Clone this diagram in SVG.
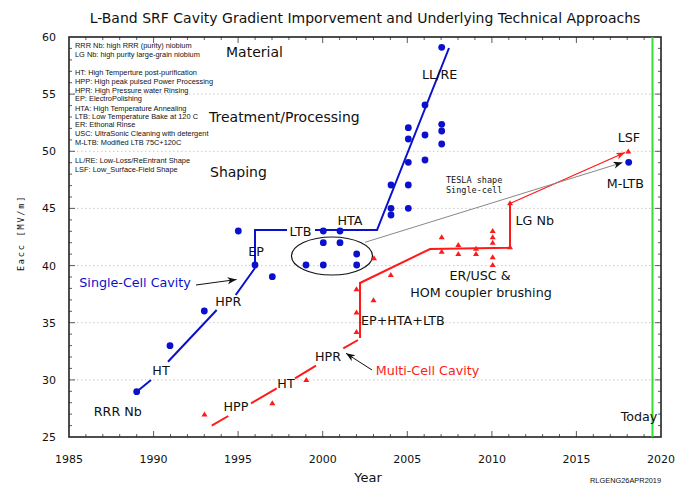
<svg xmlns="http://www.w3.org/2000/svg" xmlns:xlink="http://www.w3.org/1999/xlink" width="675" height="485" viewBox="0 0 675 485">
<style>
.t{font-family:"DejaVu Sans",sans-serif;fill:#111}
.lab{font-size:12.7px}
.big{font-size:14px}
.leg{font-family:"Liberation Sans",Arial,sans-serif;font-size:7.4px;fill:#111}
.mono{font-family:"DejaVu Sans Mono",monospace;font-size:8.5px;fill:#111}
.tick{font-family:"DejaVu Sans",sans-serif;font-size:11px;fill:#111}
.grid{stroke:#bbb;stroke-width:0.8;stroke-dasharray:1.5 2.5;fill:none}
.blue{stroke:#0a10cc;stroke-width:2;fill:none}
.red{stroke:#ff1a1a;stroke-width:2;fill:none}
.tk{stroke:#333;stroke-width:0.8;fill:none}
</style>
<defs>
<circle id="b" r="3.4" fill="#0a10cc"/>
<path id="tr" d="M0,-3 L3,2 L-3,2 Z" fill="#ff1a1a"/>
<marker id="ak" markerUnits="userSpaceOnUse" markerWidth="10" markerHeight="8" refX="9" refY="3.5" orient="auto"><path d="M0,0 L9,3.5 L0,7 L2.5,3.5 Z" fill="#111"/></marker>
<marker id="ar" markerUnits="userSpaceOnUse" markerWidth="10" markerHeight="8" refX="9" refY="3.5" orient="auto"><path d="M0,0 L9,3.5 L0,7 L2.5,3.5 Z" fill="#ff1a1a"/></marker>
</defs>
<rect width="675" height="485" fill="#fff"/>
<text class="t" x="365" y="23" font-size="14" text-anchor="middle">L-Band SRF Cavity Gradient Imporvement and Underlying Technical Approachs</text>
<g id="axes">
<path class="grid" d="M69,94.1H661M69,151.3H661M69,208.4H661M69,265.6H661M69,322.7H661M69,379.9H661"/>
<path class="tk" d="M85.9,437v-3M102.8,437v-3M119.7,437v-3M136.7,437v-3M170.5,437v-3M187.4,437v-3M204.3,437v-3M221.2,437v-3M255.1,437v-3M272,437v-3M288.9,437v-3M305.8,437v-3M339.6,437v-3M356.5,437v-3M373.5,437v-3M390.4,437v-3M424.2,437v-3M441.1,437v-3M458,437v-3M474.9,437v-3M508.8,437v-3M525.7,437v-3M542.6,437v-3M559.5,437v-3M593.3,437v-3M610.3,437v-3M627.2,437v-3M644.1,437v-3M153.6,437v-6M238.1,437v-6M322.7,437v-6M407.3,437v-6M491.9,437v-6M576.4,437v-6"/>
<path class="tk" d="M85.9,37v3M102.8,37v3M119.7,37v3M136.7,37v3M170.5,37v3M187.4,37v3M204.3,37v3M221.2,37v3M255.1,37v3M272,37v3M288.9,37v3M305.8,37v3M339.6,37v3M356.5,37v3M373.5,37v3M390.4,37v3M424.2,37v3M441.1,37v3M458,37v3M474.9,37v3M508.8,37v3M525.7,37v3M542.6,37v3M559.5,37v3M593.3,37v3M610.3,37v3M627.2,37v3M644.1,37v3M153.6,37v6M238.1,37v6M322.7,37v6M407.3,37v6M491.9,37v6M576.4,37v6"/>
<path class="tk" d="M69,425.6h3M69,414.1h3M69,402.7h3M69,391.3h3M69,368.4h3M69,357h3M69,345.6h3M69,334.1h3M69,311.3h3M69,299.9h3M69,288.4h3M69,277h3M69,254.1h3M69,242.7h3M69,231.3h3M69,219.9h3M69,197h3M69,185.6h3M69,174.1h3M69,162.7h3M69,139.9h3M69,128.4h3M69,117h3M69,105.6h3M69,82.7h3M69,71.3h3M69,59.9h3M69,48.4h3M69,379.9h6M69,322.7h6M69,265.6h6M69,208.4h6M69,151.3h6M69,94.1h6"/>
<path class="tk" d="M661,425.6h-3M661,414.1h-3M661,402.7h-3M661,391.3h-3M661,368.4h-3M661,357h-3M661,345.6h-3M661,334.1h-3M661,311.3h-3M661,299.9h-3M661,288.4h-3M661,277h-3M661,254.1h-3M661,242.7h-3M661,231.3h-3M661,219.9h-3M661,197h-3M661,185.6h-3M661,174.1h-3M661,162.7h-3M661,139.9h-3M661,128.4h-3M661,117h-3M661,105.6h-3M661,82.7h-3M661,71.3h-3M661,59.9h-3M661,48.4h-3M661,379.9h-6M661,322.7h-6M661,265.6h-6M661,208.4h-6M661,151.3h-6M661,94.1h-6"/>
<rect x="69" y="37" width="592" height="400" fill="none" stroke="#222" stroke-width="1.6"/>
<g class="tick" text-anchor="end">
<text x="56" y="41">60</text><text x="56" y="98">55</text><text x="56" y="155">50</text><text x="56" y="212">45</text><text x="56" y="269.5">40</text><text x="56" y="326.5">35</text><text x="56" y="384">30</text><text x="56" y="441">25</text>
</g>
<g class="tick" text-anchor="middle">
<text x="69" y="463">1985</text><text x="153.6" y="463">1990</text><text x="238.1" y="463">1995</text><text x="322.7" y="463">2000</text><text x="407.3" y="463">2005</text><text x="491.9" y="463">2010</text><text x="576.4" y="463">2015</text><text x="661" y="463">2020</text>
</g>
<text class="t" x="368" y="482" font-size="13" text-anchor="middle">Year</text>
<text class="mono" transform="translate(24,233) rotate(-90)" text-anchor="middle" letter-spacing="1.8">Eacc [MV/m]</text>
<text class="leg" x="590" y="483" font-size="7">RLGENG26APR2019</text>
<line x1="652.5" y1="37" x2="652.5" y2="437" stroke="#33dd33" stroke-width="2"/>
</g>
<g id="legend" class="leg">
<text x="75" y="47.7">RRR Nb: high RRR (purity) niobium</text>
<text x="75" y="57.2">LG Nb: high purity large-grain niobium</text>
<text x="75" y="75.3">HT: High Temperture post-purification</text>
<text x="75" y="83.8">HPP: High peak pulsed Power Processing</text>
<text x="75" y="92.6">HPR: High Pressure water Rinsing</text>
<text x="75" y="101.3">EP: ElectroPolishing</text>
<text x="75" y="110.6">HTA: High Temperature Annealing</text>
<text x="75" y="118.8">LTB: Low Temperature Bake at 120 C</text>
<text x="75" y="127.4">ER: Ethonal Rinse</text>
<text x="75" y="136">USC: UltraSonic Cleaning with detergent</text>
<text x="75" y="145.3">M-LTB: Modified LTB 75C+120C</text>
<text x="75" y="162.7">LL/RE: Low-Loss/ReEntrant Shape</text>
<text x="75" y="171.6">LSF: Low_Surface-Field Shape</text>
</g>
<g id="categories" class="t big">
<text x="226" y="57">Material</text>
<text x="209" y="122">Treatment/Processing</text>
<text x="210" y="177">Shaping</text>
</g>
<g id="connectors">
<path class="blue" d="M136.7,391.7L151,380M168,361.7L216.7,310M235.7,295L255,268M255,265V230H287M315,230H377L449,48"/>
<path class="red" d="M211.7,425.7L228.3,416M251,403.3L276.7,388.3M295,378.3L316,365.7M343.3,348.3L358,340M360,338V283L430,249L510,247.7V203.5"/>
<path d="M510,203.5L625,152.5" stroke="#ff1a1a" stroke-width="1.3" fill="none" marker-end="url(#ar)"/>
<path d="M365,242.3L622.5,162.5" stroke="#888" stroke-width="1" fill="none" marker-end="url(#ak)"/>
<path d="M196,285L236.5,279.5" stroke="#111" stroke-width="1" fill="none" marker-end="url(#ak)"/>
<path d="M372,370L346,353.3" stroke="#111" stroke-width="1" fill="none" marker-end="url(#ak)"/>
<ellipse cx="332" cy="256" rx="40.5" ry="19" fill="none" stroke="#111" stroke-width="1.2"/>
</g>
<g id="single-cell-data">
<use xlink:href="#b" x="136.7" y="391.7"/><use xlink:href="#b" x="170" y="345.7"/><use xlink:href="#b" x="204.3" y="311"/><use xlink:href="#b" x="238.3" y="231"/><use xlink:href="#b" x="255" y="265"/><use xlink:href="#b" x="272.3" y="276.7"/><use xlink:href="#b" x="306" y="265"/><use xlink:href="#b" x="323.3" y="265"/><use xlink:href="#b" x="356.7" y="265"/><use xlink:href="#b" x="356.7" y="254"/><use xlink:href="#b" x="323.3" y="242.7"/><use xlink:href="#b" x="340" y="242.7"/><use xlink:href="#b" x="323.3" y="231"/><use xlink:href="#b" x="340" y="231"/><use xlink:href="#b" x="391" y="208.3"/><use xlink:href="#b" x="391" y="215"/><use xlink:href="#b" x="408.3" y="208.3"/><use xlink:href="#b" x="391" y="185"/><use xlink:href="#b" x="408.3" y="185"/><use xlink:href="#b" x="408.3" y="162.3"/><use xlink:href="#b" x="425" y="160"/><use xlink:href="#b" x="408.3" y="139"/><use xlink:href="#b" x="408.3" y="127.7"/><use xlink:href="#b" x="425" y="135"/><use xlink:href="#b" x="425" y="105"/><use xlink:href="#b" x="441.7" y="124.3"/><use xlink:href="#b" x="441.7" y="131"/><use xlink:href="#b" x="441.7" y="144"/><use xlink:href="#b" x="441.7" y="47.3"/><use xlink:href="#b" x="628.7" y="162.3"/>
</g>
<g id="multi-cell-data">
<use xlink:href="#tr" x="204.5" y="414.5"/><use xlink:href="#tr" x="272.3" y="403.3"/><use xlink:href="#tr" x="306.3" y="380"/><use xlink:href="#tr" x="356.5" y="289.3"/><use xlink:href="#tr" x="356.5" y="312.5"/><use xlink:href="#tr" x="356.5" y="332"/><use xlink:href="#tr" x="373.5" y="300.3"/><use xlink:href="#tr" x="374" y="258.3"/><use xlink:href="#tr" x="390.8" y="275"/><use xlink:href="#tr" x="441.7" y="237.3"/><use xlink:href="#tr" x="441.7" y="251.7"/><use xlink:href="#tr" x="458.3" y="245"/><use xlink:href="#tr" x="458.3" y="254"/><use xlink:href="#tr" x="476" y="248.7"/><use xlink:href="#tr" x="476" y="254"/><use xlink:href="#tr" x="492.7" y="231"/><use xlink:href="#tr" x="492.7" y="237.3"/><use xlink:href="#tr" x="492.7" y="242.7"/><use xlink:href="#tr" x="492.7" y="257.3"/><use xlink:href="#tr" x="492.7" y="265"/><use xlink:href="#tr" x="510" y="203.3"/><use xlink:href="#tr" x="510" y="247.3"/><use xlink:href="#tr" x="628.3" y="151.5"/>
</g>
<g id="labels" class="t lab">
<text x="422" y="78.6">LL/RE</text>
<text x="617.7" y="141.6">LSF</text>
<text x="606.7" y="187.6">M-LTB</text>
<text x="515.5" y="224.6">LG Nb</text>
<text x="480" y="279.6" text-anchor="middle">ER/USC &amp;</text>
<text x="481" y="297.3" text-anchor="middle">HOM coupler brushing</text>
<text x="350" y="224.6" text-anchor="middle">HTA</text>
<text x="300.5" y="236.3" text-anchor="middle">LTB</text>
<text x="256" y="256.3" text-anchor="middle">EP</text>
<text x="228.3" y="306.3" text-anchor="middle">HPR</text>
<text x="161" y="375.3" text-anchor="middle">HT</text>
<text x="117.8" y="416.3" text-anchor="middle">RRR Nb</text>
<text x="236" y="410.6" text-anchor="middle">HPP</text>
<text x="286" y="387.6" text-anchor="middle">HT</text>
<text x="328" y="361.3" text-anchor="middle">HPR</text>
<text x="361" y="324.6">EP+HTA+LTB</text>
<text x="639" y="420.6" text-anchor="middle">Today</text>
<text x="79.3" y="287.3" style="fill:#0a10cc">Single-Cell Cavity</text>
<text x="375.7" y="374.6" style="fill:#ff1a1a">Multi-Cell Cavity</text>
</g>
<g id="tesla-note" class="mono">
<text x="446" y="183">TESLA shape</text>
<text x="446" y="193">Single-cell</text>
</g>
</svg>
